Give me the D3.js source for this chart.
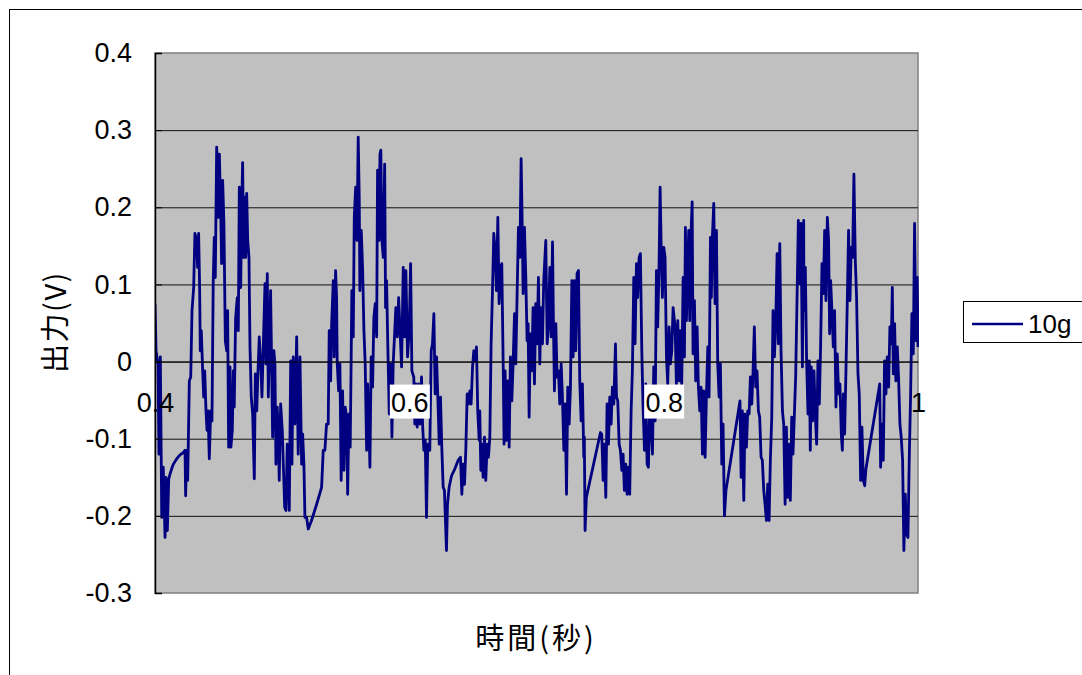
<!DOCTYPE html>
<html><head><meta charset="utf-8">
<script src="https://cdn.jsdelivr.net/npm/d3@7"></script>
<style>html,body{margin:0;padding:0;background:#fff;} svg{display:block;}</style>
</head><body><svg id="c" width="1082" height="675"></svg>
<script>
// time (s)
const timeSec = [
0.4000,0.4008,0.4024,0.4031,0.4042,0.4053,0.4065,0.4079,0.4086,0.4097,0.4108,0.4118,0.4131,0.4144,0.4171,0.4197,0.4222,0.4236,0.4241,0.4249,0.4257,0.4270,0.4281,
0.4291,0.4304,0.4314,0.4328,0.4335,0.4343,0.4351,0.4356,0.4364,0.4375,0.4383,0.4391,0.4401,0.4409,0.4417,0.4427,0.4438,0.4448,0.4458,0.4466,
0.4474,0.4485,0.4493,0.4498,0.4506,0.4516,0.4524,0.4532,0.4542,0.4553,0.4564,0.4571,0.4579,0.4590,0.4597,0.4608,0.4616,0.4623,0.4634,0.4647,
0.4655,0.4663,0.4674,0.4681,0.4689,0.4697,0.4705,0.4713,0.4721,0.4729,0.4739,0.4747,0.4757,0.4768,0.4781,0.4789,0.4800,0.4810,0.4820,0.4834,
0.4841,0.4852,0.4865,0.4872,0.4883,0.4891,0.4899,0.4909,0.4917,0.4925,0.4935,0.4943,0.4951,0.4961,0.4969,0.4977,0.4988,0.5001,0.5009,0.5020,
0.5030,0.5040,0.5048,0.5056,0.5067,0.5077,0.5087,0.5100,0.5114,0.5126,0.5140,0.5153,0.5161,0.5171,0.5179,0.5192,0.5205,0.5231,0.5271,0.5310,
0.5323,0.5336,0.5349,0.5362,0.5370,0.5381,0.5389,0.5402,0.5409,0.5420,0.5428,0.5433,0.5444,0.5454,0.5464,0.5475,0.5486,0.5496,0.5507,0.5515,
0.5525,0.5535,0.5543,0.5548,0.5559,0.5567,0.5578,0.5588,0.5598,0.5606,0.5611,0.5622,0.5633,0.5643,0.5653,0.5664,0.5672,0.5680,0.5690,0.5700,
0.5711,0.5721,0.5732,0.5743,0.5750,0.5761,0.5769,0.5776,0.5784,0.5795,0.5806,0.5813,0.5821,0.5831,0.5842,0.5855,0.5863,0.5873,0.5894,0.5905,
0.5916,0.5939,0.5952,0.5963,0.5973,0.5986,0.5999,0.6010,0.6020,
0.6035,0.6043,0.6051,0.6062,0.6072,0.6083,0.6096,0.6104,0.6114,0.6125,0.6135,0.6145,0.6161,0.6172,0.6182,0.6193,0.6203,0.6214,0.6224,0.6235,
0.6245,0.6256,0.6266,0.6276,0.6292,0.6300,0.6313,0.6332,0.6358,0.6384,0.6402,0.6413,0.6423,0.6434,0.6444,0.6455,0.6465,0.6476,0.6486,0.6497,0.6507,0.6518,
0.6528,0.6538,0.6549,0.6554,0.6562,0.6570,0.6580,0.6591,0.6601,0.6612,0.6622,0.6633,0.6643,0.6654,0.6664,0.6675,0.6685,0.6696,0.6706,0.6717,
0.6727,0.6738,0.6745,0.6753,0.6764,0.6774,0.6785,0.6795,0.6806,0.6816,0.6827,0.6837,0.6848,0.6858,0.6869,0.6879,0.6887,0.6895,0.6905,0.6916,
0.6926,0.6934,0.6942,0.6952,0.6963,0.6973,0.6984,0.6994,0.7005,0.7015,0.7026,0.7036,0.7047,0.7057,
0.7073,0.7084,0.7094,0.7105,0.7115,0.7126,0.7133,0.7141,0.7152,0.7162,0.7173,0.7183,0.7194,0.7204,0.7215,0.7225,0.7236,0.7246,0.7257,0.7267,
0.7278,0.7288,0.7298,0.7309,0.7319,0.7330,0.7340,0.7351,0.7361,0.7372,0.7376,0.7382,0.7392,0.7503,0.7513,0.7524,0.7534,0.7545,0.7555,0.7566,0.7576,
0.7587,0.7597,0.7608,0.7621,0.7629,0.7639,0.7650,0.7660,0.7671,0.7681,0.7691,0.7702,0.7712,0.7723,0.7733,0.7744,0.7754,0.7765,0.7775,0.7786,
0.7796,0.7807,0.7817,0.7828,0.7838,0.7849,0.7859,0.7870,0.7880,0.7891,0.7901,0.7912,0.7922,0.7933,0.7943,0.7953,0.7964,0.7972,0.7980,0.7990,
0.8001,0.8011,0.8022,0.8032,0.8043,0.8053,0.8064,0.8074,
0.8090,0.8100,0.8111,0.8121,0.8132,0.8142,0.8153,0.8163,0.8171,0.8179,0.8189,0.8197,0.8205,0.8216,0.8224,0.8231,0.8242,0.8252,0.8263,0.8273,
0.8284,0.8294,0.8305,0.8315,0.8326,0.8336,0.8347,0.8357,0.8368,0.8375,0.8383,0.8394,0.8404,0.8415,0.8425,0.8436,0.8446,0.8457,0.8467,0.8478,
0.8490,0.8600,0.8609,0.8619,0.8630,0.8640,0.8651,0.8661,0.8672,0.8682,0.8693,0.8703,0.8713,0.8724,0.8734,0.8745,0.8755,0.8766,0.8776,0.8787,0.8797,
0.8808,0.8818,0.8829,0.8839,0.8850,0.8860,0.8871,0.8881,0.8892,0.8902,0.8913,0.8923,0.8934,0.8944,0.8955,0.8965,0.8975,0.8986,0.8996,0.9007,
0.9017,0.9028,0.9038,0.9049,0.9059,0.9070,0.9080,0.9091,0.9101,
0.9103,0.9114,0.9124,0.9135,0.9145,0.9153,0.9161,0.9171,0.9182,0.9192,0.9203,0.9213,0.9224,0.9234,0.9245,0.9255,0.9266,0.9276,0.9287,0.9297,
0.9305,0.9313,0.9323,0.9334,0.9344,0.9355,0.9365,0.9376,0.9386,0.9397,0.9405,0.9413,0.9423,0.9433,0.9444,0.9454,0.9465,0.9475,0.9486,0.9496,
0.9507,0.9517,0.9528,0.9538,0.9549,0.9559,0.9570,0.9581,0.9590,0.9699,0.9706,0.9716,0.9727,0.9737,0.9748,0.9758,0.9769,0.9779,0.9790,0.9798,0.9806,
0.9816,0.9826,0.9837,0.9847,0.9858,0.9868,0.9879,0.9889,0.9900,0.9910,0.9921,0.9931,0.9942,0.9952,0.9963,0.9973,0.9984,0.9994,1.0000
];
// output (V), series "10g"
const outputV = [
0.075,0.014,-0.003,-0.120,0.006,-0.202,-0.137,-0.228,-0.150,-0.219,-0.152,-0.146,-0.139,-0.133,-0.126,-0.121,-0.118,-0.115,-0.174,-0.115,-0.154,-0.025,-0.020,
0.066,0.096,0.166,0.157,0.122,0.166,0.096,0.014,0.040,-0.012,-0.046,-0.012,-0.064,-0.089,-0.064,-0.126,-0.064,-0.077,0.105,0.161,
0.109,0.278,0.243,0.187,0.269,0.200,0.127,0.235,0.179,0.027,0.014,0.066,-0.111,-0.007,-0.111,-0.089,-0.012,-0.059,0.057,0.083,
0.040,0.226,0.096,0.192,0.258,0.135,0.213,0.135,0.218,0.157,0.135,0.019,-0.046,-0.068,-0.152,-0.016,-0.064,-0.012,0.032,-0.012,
-0.046,0.023,0.101,-0.003,0.114,-0.046,0.014,0.092,-0.003,-0.098,0.014,-0.003,-0.133,-0.059,-0.089,-0.154,-0.055,-0.089,-0.133,-0.189,
-0.193,-0.107,-0.133,-0.193,0.001,-0.133,0.006,-0.081,0.032,-0.120,0.006,-0.133,-0.094,-0.133,-0.202,-0.202,-0.217,-0.206,-0.185,-0.163,
-0.115,-0.115,-0.081,-0.081,0.040,-0.025,0.049,0.105,0.006,0.118,0.083,-0.003,-0.038,-0.003,-0.154,-0.038,-0.141,-0.059,-0.072,-0.172,
-0.068,-0.111,0.010,0.092,0.032,0.187,0.226,0.157,0.291,0.213,0.092,0.170,0.118,0.040,-0.003,-0.115,-0.029,-0.064,-0.137,0.006,
-0.033,0.057,0.075,0.032,0.248,0.157,0.269,0.274,0.157,0.135,0.256,0.070,0.105,0.019,-0.068,-0.003,-0.098,-0.003,0.070,0.032,
0.083,-0.007,0.122,0.032,0.118,0.006,0.040,0.127,-0.012,
-0.020,-0.081,-0.029,-0.085,-0.029,-0.081,-0.020,-0.081,-0.115,-0.102,-0.202,-0.107,-0.115,0.014,0.023,0.062,-0.042,0.006,-0.046,-0.107,
-0.046,-0.115,-0.163,-0.167,-0.245,-0.185,-0.163,-0.148,-0.139,-0.128,-0.124,-0.172,-0.133,-0.159,-0.115,-0.042,-0.055,-0.038,-0.055,-0.007,0.014,0.001,
0.019,-0.064,-0.102,-0.064,-0.141,-0.107,-0.150,-0.098,-0.154,-0.107,-0.124,-0.098,0.023,0.092,0.166,0.144,0.092,0.187,0.075,0.122,
0.127,-0.003,-0.107,-0.012,-0.102,-0.025,-0.111,0.006,-0.051,-0.003,0.062,-0.003,0.092,0.174,0.135,0.263,0.183,0.088,0.174,0.109,
0.027,0.049,-0.072,0.036,-0.012,0.070,-0.029,0.075,0.023,0.109,-0.003,0.070,0.023,0.105,
0.157,0.023,0.049,0.122,0.032,0.155,0.053,-0.038,0.049,-0.020,-0.012,-0.055,-0.003,-0.046,-0.115,-0.055,-0.172,-0.033,-0.081,-0.033,
0.105,0.006,0.105,0.014,0.114,0.118,-0.025,-0.077,-0.029,-0.124,-0.098,-0.219,-0.176,-0.092,-0.094,-0.154,-0.107,-0.176,-0.055,-0.107,-0.046,
-0.081,-0.033,-0.055,0.023,-0.046,-0.051,-0.107,-0.115,-0.141,-0.120,-0.167,-0.133,-0.172,-0.137,-0.172,-0.064,-0.012,0.109,0.023,0.127,
0.083,0.135,0.140,0.014,-0.059,-0.115,-0.029,-0.133,-0.137,-0.055,-0.081,-0.120,-0.007,-0.077,0.118,0.045,0.127,0.226,0.153,0.083,
0.148,0.135,0.006,-0.029,0.045,-0.003,0.014,0.070,
0.045,-0.029,0.053,-0.025,0.040,-0.029,0.109,0.006,0.174,0.053,0.118,0.170,0.053,0.170,0.207,0.010,0.079,-0.025,0.045,-0.033,
-0.064,-0.033,-0.120,-0.038,-0.124,-0.046,0.019,-0.046,0.161,0.083,0.161,0.205,0.075,0.170,-0.003,-0.046,-0.003,-0.133,-0.081,-0.200,
-0.167,-0.051,-0.150,-0.064,-0.180,-0.068,-0.111,-0.064,-0.068,-0.020,-0.055,-0.012,0.045,-0.033,-0.012,-0.064,-0.072,-0.124,-0.128,-0.167,-0.185,
-0.206,-0.159,-0.206,-0.128,-0.072,0.066,0.006,0.049,0.140,0.023,0.153,0.014,-0.064,-0.081,-0.185,-0.085,-0.176,-0.107,-0.180,-0.072,
-0.120,-0.068,-0.020,0.083,0.183,0.101,0.179,-0.007,0.183,
0.066,0.122,0.001,-0.068,0.001,-0.115,-0.007,-0.077,-0.012,-0.068,-0.107,0.001,-0.055,0.019,0.127,0.088,0.170,0.079,0.187,0.157,
0.036,0.105,0.066,0.019,0.066,-0.059,0.010,-0.042,-0.029,-0.094,-0.115,-0.042,-0.094,-0.016,0.079,0.170,0.079,0.148,0.135,0.243,
0.131,0.083,-0.016,-0.042,-0.154,-0.085,-0.154,-0.161,-0.140,-0.029,-0.137,-0.081,-0.128,0.001,-0.042,0.006,-0.033,0.045,0.023,0.096,-0.016,
0.049,-0.025,0.019,-0.020,-0.081,-0.098,-0.128,-0.245,-0.172,-0.224,-0.228,-0.128,-0.042,0.062,0.010,0.179,0.027,0.109,0.019
];
const yTickValues = [0.4, 0.3, 0.2, 0.1, 0, -0.1, -0.2, -0.3];
const yTickLabels = ["0.4", "0.3", "0.2", "0.1", "0", "-0.1", "-0.2", "-0.3"];
const xTickValues = [0.4, 0.6, 0.8, 1.0];
const xTickLabels = ["0.4", "0.6", "0.8", "1"];
const seriesName = "10g";
const xTitle = "時間(秒)";
const yTitle = "出力(V)";

const svg = d3.select("#c");
const P = {left: 155, right: 918, top: 53, bottom: 593};
const x = d3.scaleLinear().domain([0.4, 1.0]).range([P.left, P.right]);
const y = d3.scaleLinear().domain([-0.3, 0.4]).range([P.bottom, P.top]);
const latin = "'Liberation Sans', Arial, sans-serif";
const cjk = "'Noto Sans CJK JP', 'Noto Sans CJK SC', sans-serif";

svg.append("rect").attr("width", 1082).attr("height", 675).attr("fill", "#fff");
svg.append("rect").attr("x", 9.5).attr("y", 9.5).attr("width", 1090).attr("height", 680)
  .attr("fill", "none").attr("stroke", "#000").attr("stroke-width", 1);

// plot area
svg.append("rect").attr("x", P.left).attr("y", P.top)
  .attr("width", P.right - P.left).attr("height", P.bottom - P.top)
  .attr("fill", "#c0c0c0").attr("stroke", "#808080").attr("stroke-width", 1.5);

// gridlines
const grid = svg.append("g").attr("transform", `translate(${P.left},0)`)
  .call(d3.axisLeft(y).tickValues(yTickValues.filter(v => v < 0.4 && v > -0.3))
    .tickSize(-(P.right - P.left)).tickFormat(""));
grid.select(".domain").remove();
grid.selectAll(".tick line").attr("stroke", "#111").attr("stroke-width", 1);

// series
const pts = d3.range(Math.min(timeSec.length, outputV.length)).map(i => [timeSec[i], outputV[i]]);
const line = d3.line().x(d => x(d[0])).y(d => y(d[1]));
svg.append("defs").append("clipPath").attr("id", "clip").append("rect")
  .attr("x", P.left).attr("y", P.top - 2).attr("width", P.right - P.left + 1).attr("height", P.bottom - P.top + 4);
svg.append("path").datum(pts).attr("d", line).attr("fill", "none")
  .attr("stroke", "#000080").attr("stroke-width", 2.8).attr("stroke-linejoin", "round")
  .attr("clip-path", "url(#clip)");

// y axis
const yAxis = svg.append("g").attr("transform", `translate(${P.left},0)`)
  .call(d3.axisLeft(y).tickValues(yTickValues).tickSize(-7).tickPadding(23)
    .tickFormat((d, i) => yTickLabels[i]));
yAxis.select(".domain").attr("stroke", "#000").attr("stroke-width", 1.5);
yAxis.selectAll(".tick line").attr("stroke", "#000");
yAxis.selectAll(".tick text").attr("font-family", latin).attr("font-size", 27).attr("fill", "#000");

// x axis crossing at zero
const xAxis = svg.append("g").attr("transform", `translate(0,${y(0)})`)
  .call(d3.axisBottom(x).tickValues(xTickValues).tickSize(0).tickFormat((d, i) => xTickLabels[i]));
xAxis.select(".domain").attr("stroke", "#000").attr("stroke-width", 1);
xAxis.selectAll(".tick").each(function(d, i) {
  const g = d3.select(this);
  if (i === 1 || i === 2) {
    g.insert("rect", "text").attr("x", -20).attr("y", 23).attr("width", 40).attr("height", 34).attr("fill", "#fff");
  }
});
xAxis.selectAll(".tick text").attr("y", 41).attr("dy", "0.35em")
  .attr("font-family", latin).attr("font-size", 27).attr("fill", "#000");

// titles
svg.append("text").attr("x", 536).attr("y", 636).attr("text-anchor", "middle")
  .attr("dominant-baseline", "central").attr("font-family", cjk).attr("font-size", 29)
  .attr("letter-spacing", 3).attr("fill", "#000").text(xTitle);
svg.append("text").attr("transform", "translate(53,322) rotate(-90)").attr("text-anchor", "middle")
  .attr("dominant-baseline", "central").attr("font-family", cjk).attr("font-size", 29)
  .attr("letter-spacing", 1.5).attr("fill", "#000").text(yTitle);

// legend
const lg = svg.append("g");
lg.append("rect").attr("x", 963.5).attr("y", 301.5).attr("width", 125).attr("height", 41)
  .attr("fill", "#fff").attr("stroke", "#000").attr("stroke-width", 1);
lg.append("line").attr("x1", 972).attr("x2", 1023).attr("y1", 324).attr("y2", 324)
  .attr("stroke", "#000080").attr("stroke-width", 2.5);
lg.append("text").attr("x", 1028).attr("y", 324).attr("dominant-baseline", "central")
  .attr("font-family", latin).attr("font-size", 26).attr("fill", "#000").text(seriesName);
</script></body></html>
